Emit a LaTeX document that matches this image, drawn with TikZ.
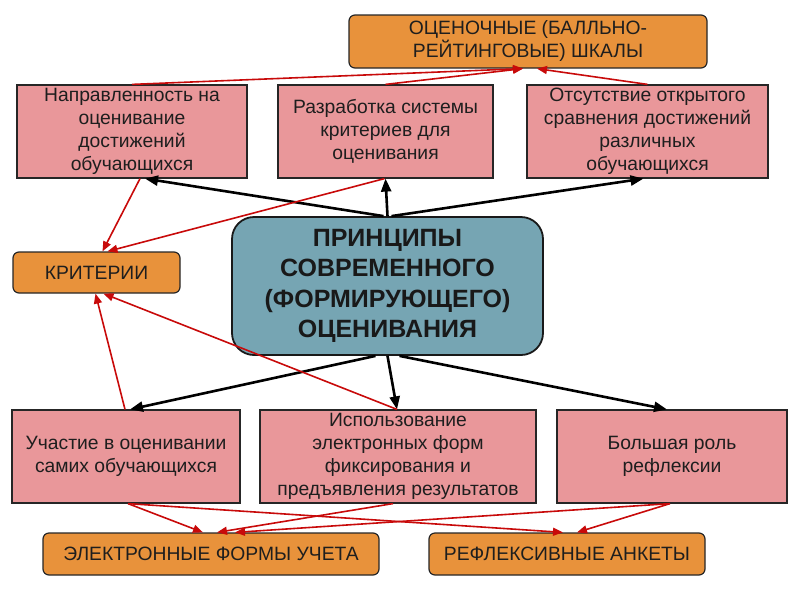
\documentclass[tikz,border=0pt]{standalone}
\usepackage{fontspec}
\setmainfont{Liberation Sans}
\usepackage{tikz}
\usetikzlibrary{arrows.meta}

\definecolor{pinkfill}{RGB}{233,151,154}
\definecolor{orangefill}{RGB}{232,146,59}
\definecolor{tealfill}{RGB}{118,165,179}
\definecolor{redline}{RGB}{200,10,10}
\definecolor{textgray}{RGB}{30,30,30}

\tikzset{
	pinkbox/.style={draw=black!85, fill=pinkfill, line width=1.2pt, inner sep=0pt,
		align=center, text=textgray, font=\fontsize{19.3}{23}\selectfont},
	orangebox/.style={draw=black!85, fill=orangefill, line width=1.2pt, inner sep=0pt,
		rounded corners=6pt, align=center, text=textgray, font=\fontsize{19.3}{23}\selectfont},
	mainbox/.style={draw=black!90, fill=tealfill, line width=1.8pt, inner sep=0pt,
		rounded corners=22pt, align=center, text=black!90, font=\bfseries\fontsize{25}{30.5}\selectfont},
	blk/.style={draw=black, line width=2.6pt, -{Triangle[length=13pt,width=10pt]}},
	redln/.style={draw=redline, line width=1.6pt, -{Triangle[length=10pt,width=8pt]}}
}

\begin{document}
\begin{tikzpicture}[x=1pt, y=-1pt]
		\useasboundingbox (0,0) rectangle (800,600);
		
		% top scales box
		\node[orangebox, minimum width=358pt, minimum height=53pt] (scales) at (528,41.5)
			{ОЦЕНОЧНЫЕ (БАЛЛЬНО-\\РЕЙТИНГОВЫЕ) ШКАЛЫ};
		
		% upper row
		\node[pinkbox, minimum width=230pt, minimum height=93pt] (focus) at (132,131.5)
			{Направленность на\\оценивание\\достижений\\обучающихся};
		\node[pinkbox, minimum width=215pt, minimum height=93pt] (system) at (385.5,131.5)
			{Разработка системы\\критериев для\\оценивания};
		\node[pinkbox, minimum width=241pt, minimum height=93pt] (nocompare) at (647.5,131.5)
			{Отсутствие открытого\\сравнения достижений\\различных\\обучающихся};
		
		% criteria box
		\node[orangebox, minimum width=167pt, minimum height=41pt] (criteria) at (96.5,272.5)
			{КРИТЕРИИ};
		
		% main box
		\node[mainbox, minimum width=311pt, minimum height=138pt] (main) at (387.5,286)
			{ПРИНЦИПЫ\\СОВРЕМЕННОГО\\(ФОРМИРУЮЩЕГО)\\ОЦЕНИВАНИЯ};
		
		% lower row
		\node[pinkbox, minimum width=228pt, minimum height=93pt] (self) at (126,456.5)
			{Участие в оценивании\\самих обучающихся};
		\node[pinkbox, minimum width=276pt, minimum height=93pt] (eforms) at (398,456.5)
			{Использование\\электронных форм\\фиксирования и\\предъявления результатов};
		\node[pinkbox, minimum width=230pt, minimum height=93pt] (reflect) at (672,456.5)
			{Большая роль\\рефлексии};
		
		% bottom boxes
		\node[orangebox, minimum width=336pt, minimum height=42pt] (eaccount) at (211,554)
			{ЭЛЕКТРОННЫЕ ФОРМЫ УЧЕТА};
		\node[orangebox, minimum width=276pt, minimum height=42pt] (survey) at (567,554)
			{РЕФЛЕКСИВНЫЕ АНКЕТЫ};
		
		% black arrows
		\draw[blk] ([xshift=-4pt]main.north) -- ([xshift=13pt]focus.south);
		\draw[blk] (main.north) -- (system.south);
		\draw[blk] ([xshift=4pt]main.north) -- ([xshift=-4pt]nocompare.south);
		\draw[blk] ([xshift=-12pt]main.south) -- ([xshift=4pt]self.north);
		\draw[blk] (main.south) -- ([xshift=-1pt]eforms.north);
		\draw[blk] ([xshift=12pt]main.south) -- ([xshift=-5pt]reflect.north);
		
		% red arrows up
		\draw[redln] (focus.north) -- ([xshift=-5pt]scales.south);
		\draw[redln] (system.north) -- ([xshift=-5pt]scales.south);
		\draw[redln] (nocompare.north) -- ([xshift=9pt]scales.south);
		
		% red arrows to criteria
		\draw[redln] ([xshift=8pt]focus.south) -- ([xshift=6pt]criteria.north);
		\draw[redln] ([xshift=-1pt]system.south) -- ([xshift=11pt]criteria.north);
		\draw[redln] ([xshift=-1pt]self.north) -- ([xshift=-1pt]criteria.south);
		\draw[redln] ([xshift=-1pt]eforms.north) -- ([xshift=7pt]criteria.south);
		
		% red arrows down
		\draw[redln] ([xshift=2pt]self.south) -- ([xshift=-8pt]eaccount.north);
		\draw[redln] ([xshift=-5pt]eforms.south) -- ([xshift=6pt]eaccount.north);
		\draw[redln] ([xshift=-2pt]reflect.south) -- ([xshift=24pt]eaccount.north);
		\draw[redln] ([xshift=2pt]self.south) -- ([xshift=-4pt]survey.north);
		\draw[redln] ([xshift=-2pt]reflect.south) -- ([xshift=10pt]survey.north);
	\end{tikzpicture}
\end{document}
